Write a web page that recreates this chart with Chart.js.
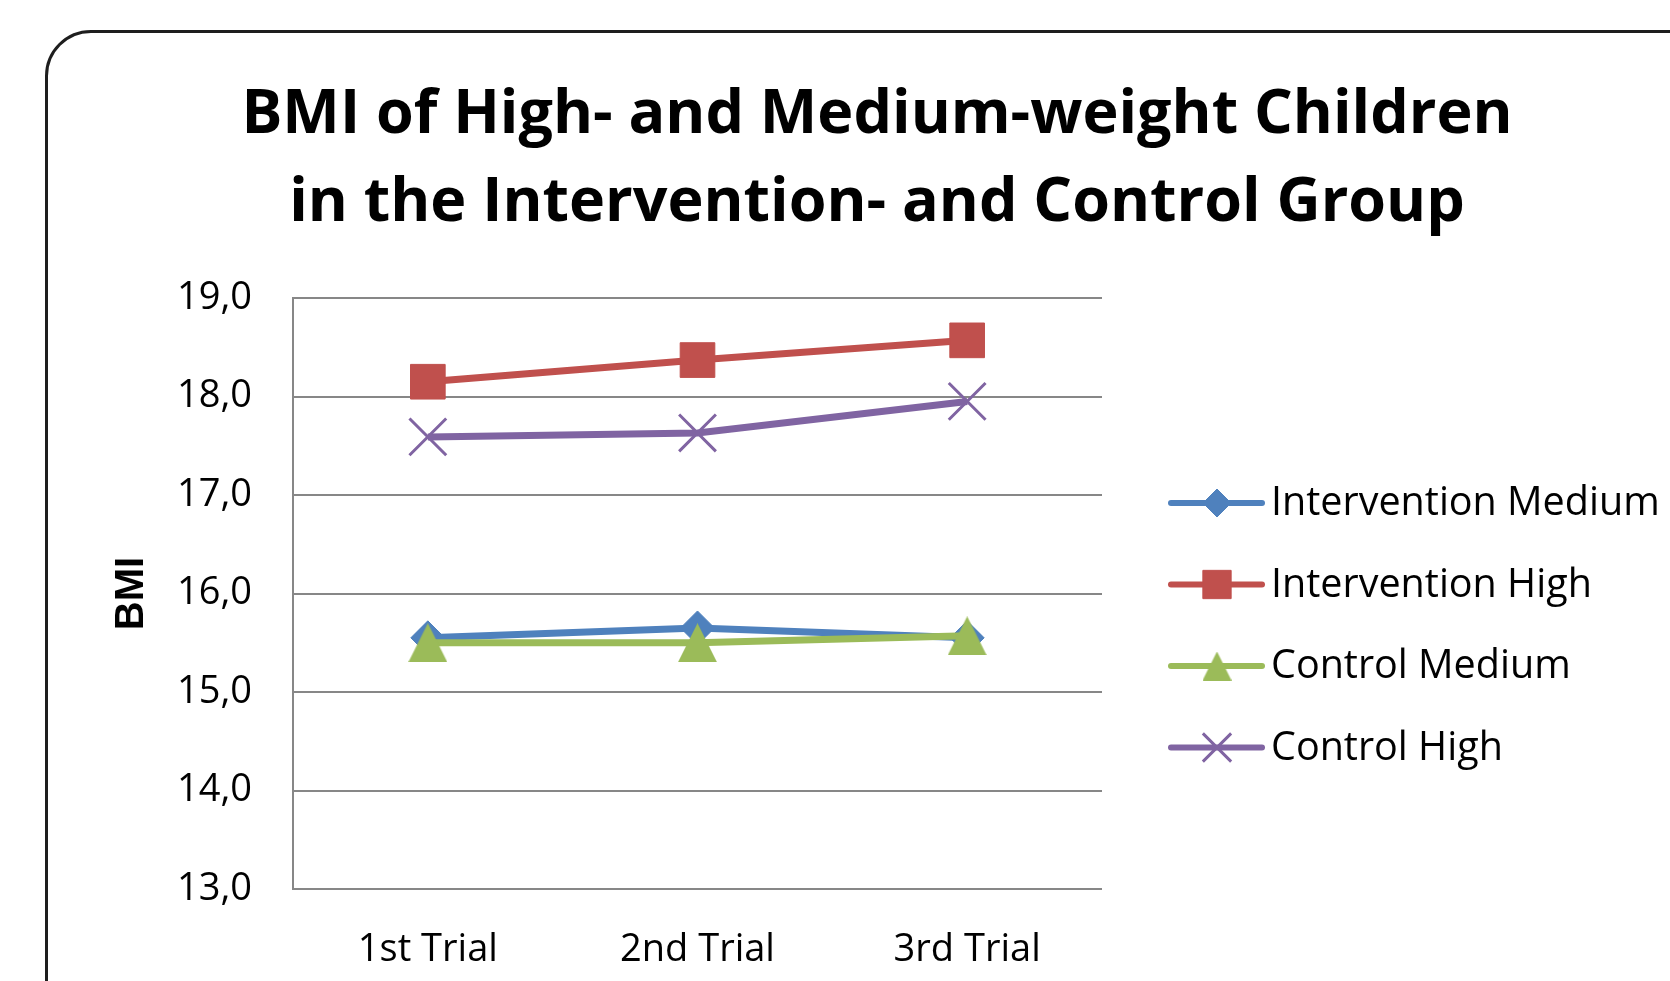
<!DOCTYPE html>
<html>
<head>
<meta charset="utf-8">
<script src="https://cdn.jsdelivr.net/npm/chart.js@4.4.1/dist/chart.umd.min.js"></script>
<style>
  html, body { margin: 0; padding: 0; background: #fff; overflow: hidden; }
  #wrap { position: relative; width: 1670px; height: 981px; }
  #frame { position: absolute; left: 45px; top: 30px; width: 1700px; height: 1000px;
           border: 3px solid #1e1e1e; border-radius: 46px; box-sizing: border-box; }
  canvas { position: absolute; left: 0; top: 0; }
</style>
</head>
<body>
<div id="wrap">
  <div id="frame"></div>
  <canvas id="bmiChart" width="1670" height="981"></canvas>
</div>
<script>
const trials = ['1st Trial', '2nd Trial', '3rd Trial'];
const interventionMedium = [15.55, 15.65, 15.55];
const interventionHigh = [18.15, 18.37, 18.57];
const controlMedium = [15.50, 15.50, 15.57];
const controlHigh = [17.59, 17.63, 17.95];
const yTicks = [13, 14, 15, 16, 17, 18, 19];

const seriesNames = ['Intervention Medium', 'Intervention High', 'Control Medium', 'Control High'];
const seriesColors = ['#4F81BD', '#C0504D', '#9BBB59', '#8064A2'];
const titleLines = ['BMI of High- and Medium-weight Children', 'in the Intervention- and Control Group'];

// Excel style triangle: as wide as it is tall
function triangleImage(size, color) {
    const c = document.createElement('canvas');
    c.width = size;
    c.height = size;
    const g = c.getContext('2d');
    g.fillStyle = color;
    g.beginPath();
    g.moveTo(0, size);
    g.lineTo(size / 2, 0);
    g.lineTo(size, size);
    g.closePath();
    g.fill();
    return c;
}

const bigTriangle = triangleImage(39, seriesColors[2]);
const smallTriangle = triangleImage(29, seriesColors[2]);

const headTitle = {
    id: 'headTitle',
    afterDraw(chart) {
        const ctx = chart.ctx;
        ctx.save();
        ctx.fillStyle = '#000';
        ctx.font = 'bold 61px "Open Sans"';
        ctx.textAlign = 'center';
        ctx.textBaseline = 'alphabetic';
        ctx.fillText(titleLines[0], 877, 133);
        ctx.fillText(titleLines[1], 877, 221);
        ctx.restore();
    }
};

// legend drawn by hand so each entry shows the line with its marker
const sideLegend = {
    id: 'sideLegend',
    afterDraw(chart) {
        const ctx = chart.ctx;
        const top = 503, gap = 81.5;
        ctx.save();
        chart.data.datasets.forEach((ds, i) => {
            const y = top + i * gap;
            ctx.strokeStyle = ds.borderColor;
            ctx.lineWidth = 6;
            ctx.lineCap = 'round';
            ctx.beginPath();
            ctx.moveTo(1171, y);
            ctx.lineTo(1262, y);
            ctx.stroke();
            ctx.fillStyle = ds.pointBackgroundColor;
            ctx.strokeStyle = ds.pointBorderColor;
            ctx.lineWidth = ds.pointBorderWidth;
            ctx.lineCap = 'butt';
            Chart.helpers.drawPoint(ctx, {
                pointStyle: ds.legendStyle || ds.pointStyle,
                radius: ds.legendRadius,
                rotation: 0,
                borderWidth: ds.pointBorderWidth
            }, 1217, y);
            ctx.fillStyle = '#000';
            ctx.font = '39.5px "Open Sans"';
            ctx.textBaseline = 'middle';
            ctx.fillText(ds.label, 1271, y + 1);
        });
        ctx.restore();
    }
};

const makeSet = (i, data, style, radius, legendRadius, order, borderW) => ({
    label: seriesNames[i],
    data: data,
    borderColor: seriesColors[i],
    backgroundColor: seriesColors[i],
    borderWidth: 7,
    tension: 0,
    pointStyle: style,
    pointRadius: radius,
    pointHoverRadius: radius,
    pointBackgroundColor: seriesColors[i],
    pointBorderColor: seriesColors[i],
    pointBorderWidth: borderW,
    legendRadius: legendRadius,
    order: order
});

const cmSet = makeSet(2, controlMedium, bigTriangle, 20, 15, 2, 1);
cmSet.legendStyle = smallTriangle;

new Chart(document.getElementById('bmiChart'), {
    type: 'line',
    data: {
        labels: trials,
        datasets: [
            makeSet(0, interventionMedium, 'rectRot', 17, 14, 4, 1),
            makeSet(1, interventionHigh, 'rect', 24.5, 20, 3, 1),
            cmSet,
            makeSet(3, controlHigh, 'crossRot', 26, 20, 1, 3)
        ]
    },
    options: {
        responsive: false,
        animation: false,
        layout: { padding: { left: 95, right: 568, top: 298, bottom: 0 } },
        plugins: {
            legend: { display: false },
            tooltip: { enabled: false },
            title: { display: false }
        },
        scales: {
            x: {
                offset: true,
                afterFit: s => { s.height = 92; },
                grid: { display: false, drawTicks: false },
                border: { display: false },
                ticks: { padding: 38, color: '#000', font: { family: 'Open Sans', size: 38 } }
            },
            y: {
                min: 13,
                max: 19,
                afterFit: s => { s.width = 198; },
                afterBuildTicks: s => { s.ticks = yTicks.map(v => ({ value: v })); },
                ticks: {
                    padding: 41,
                    color: '#000',
                    font: { family: 'Open Sans', size: 38 },
                    callback: v => v.toFixed(1).replace('.', ',')
                },
                grid: { color: '#878787', lineWidth: 2, drawTicks: false },
                border: { display: true, color: '#878787', width: 2 },
                title: {
                    display: true,
                    text: 'BMI',
                    color: '#000',
                    font: { family: 'Liberation Sans', size: 40, weight: 'bold' },
                    padding: { top: 13, bottom: 0 }
                }
            }
        }
    },
    plugins: [headTitle, sideLegend]
});
</script>
</body>
</html>
